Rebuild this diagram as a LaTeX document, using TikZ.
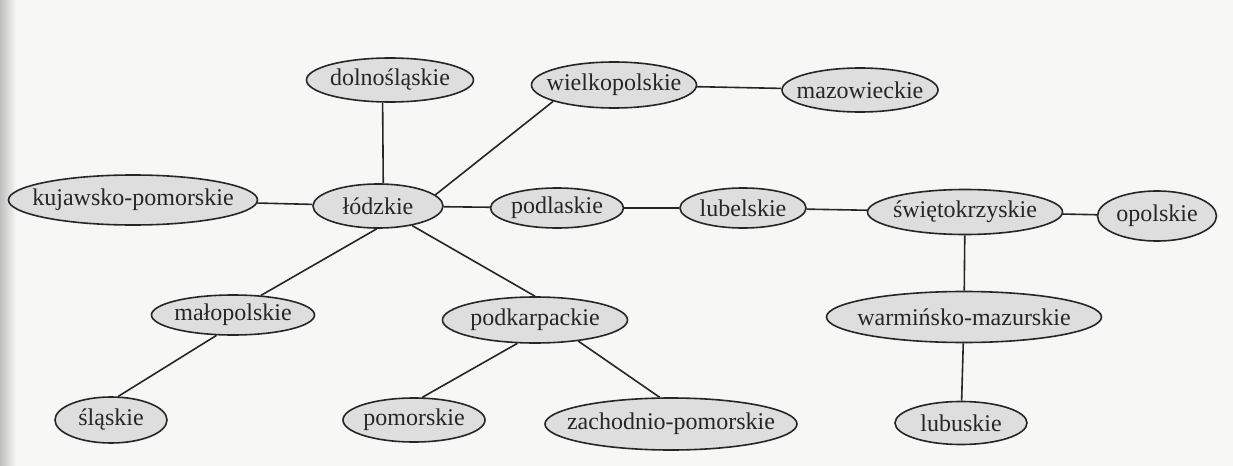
\documentclass[tikz,border=0pt]{standalone}
\usepackage{fontspec}
\setmainfont{Liberation Serif}
\usetikzlibrary{shapes.geometric}
\newcommand\voivlab[1]{\makebox[0pt][c]{#1}}
\definecolor{bgpaper}{HTML}{F7F7F5}
\definecolor{nodefill}{HTML}{DEDEDE}
\definecolor{inkc}{HTML}{262626}
\begin{document}
\begin{tikzpicture}[x=0.5pt,y=-0.5pt,
  voiv/.style={ellipse, draw=inkc, line width=0.8pt, fill=nodefill, inner sep=0pt,
               font=\fontsize{12}{14}\selectfont, text=inkc},
  link/.style={draw=inkc, line width=0.8pt}]
\fill[bgpaper] (0,0) rectangle (1233,466);
\shade[left color=black!25, right color=bgpaper] (0,0) rectangle (16,466);
\useasboundingbox (0,0) rectangle (1233,466);

\node[voiv, minimum width=83.5pt, minimum height=22pt] (dol) at (390,80) {\voivlab{dolnośląskie}};
\node[voiv, minimum width=82.5pt, minimum height=23pt] (wiel) at (614,85) {\voivlab{wielkopolskie}};
\node[voiv, minimum width=78pt, minimum height=22pt] (maz) at (860,90) {\voivlab{mazowieckie}};
\node[voiv, minimum width=124.5pt, minimum height=25pt] (kuj) at (133,200) {\voivlab{kujawsko-pomorskie}};
\node[voiv, minimum width=65pt, minimum height=22pt] (lodz) at (378,206) {\voivlab{łódzkie}};
\node[voiv, minimum width=66.5pt, minimum height=20pt] (podl) at (557,208) {\voivlab{podlaskie}};
\node[voiv, minimum width=63pt, minimum height=20pt] (lubel) at (743,208) {\voivlab{lubelskie}};
\node[voiv, minimum width=97.5pt, minimum height=22.5pt] (swie) at (965,212) {\voivlab{świętokrzyskie}};
\node[voiv, minimum width=59.5pt, minimum height=25pt] (opol) at (1157,216) {\voivlab{opolskie}};
\node[voiv, minimum width=81.5pt, minimum height=20pt] (malo) at (233,315) {\voivlab{małopolskie}};
\node[voiv, minimum width=92.5pt, minimum height=23pt] (podk) at (535,320) {\voivlab{podkarpackie}};
\node[voiv, minimum width=137.5pt, minimum height=25.5pt] (warm) at (964,317) {\voivlab{warmińsko-mazurskie}};
\node[voiv, minimum width=56pt, minimum height=23pt] (slask) at (111,420) {\voivlab{śląskie}};
\node[voiv, minimum width=71pt, minimum height=22pt] (pom) at (414,420) {\voivlab{pomorskie}};
\node[voiv, minimum width=126pt, minimum height=26pt] (zach) at (671,424) {\voivlab{zachodnio-pomorskie}};
\node[voiv, minimum width=66pt, minimum height=21.5pt] (lubus) at (961,423) {\voivlab{lubuskie}};

\draw[link] (dol.252) -- (lodz.77);
\draw[link] (lodz.11) -- (wiel.195);
\draw[link] (wiel) -- (maz);
\draw[link] (kuj) -- (lodz);
\draw[link] (lodz) -- (podl);
\draw[link] (podl) -- (lubel);
\draw[link] (lubel) -- (swie);
\draw[link] (swie) -- (opol);
\draw[link] (swie) -- (warm);
\draw[link] (warm) -- (lubus);
\draw[link] (lodz.267) -- (malo.35);
\draw[link] (lodz) -- (podk.north);
\draw[link] (malo.231) -- (slask.73);
\draw[link] (podk.233) -- (pom.70);
\draw[link] (podk.334) -- (zach.113);
\end{tikzpicture}
\end{document}
